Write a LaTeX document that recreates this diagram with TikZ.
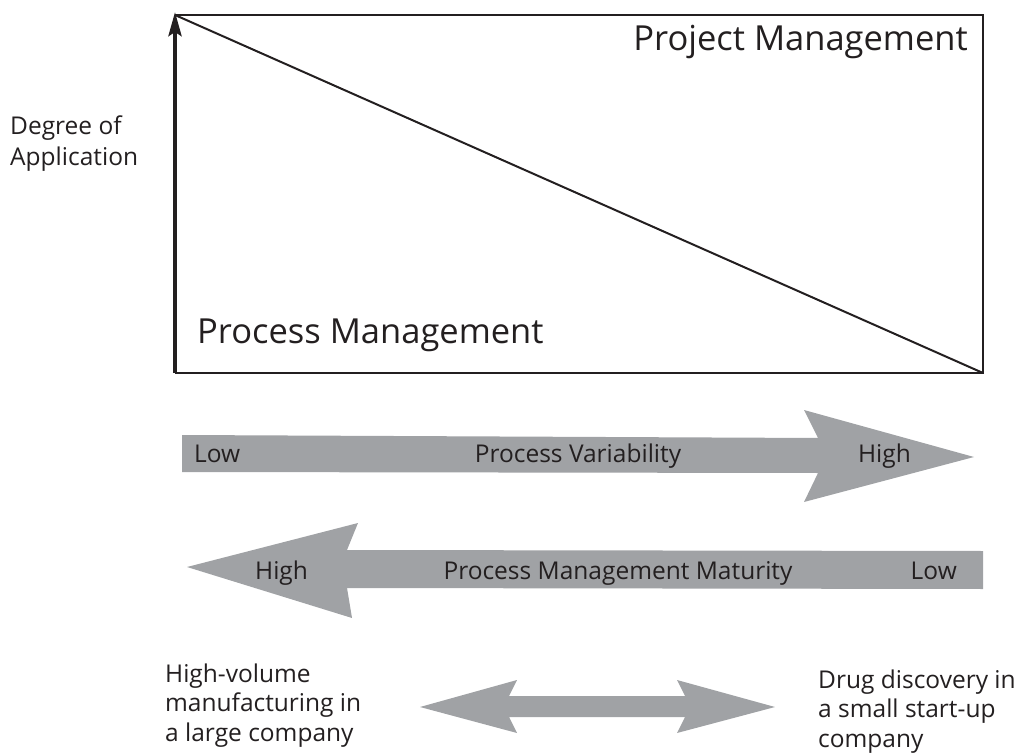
\documentclass[tikz,border=0pt]{standalone}
\usepackage{fontspec}
\setmainfont{Open Sans}
\usetikzlibrary{arrows.meta}
\definecolor{arrowgray}{RGB}{160,162,165}
\definecolor{ink}{RGB}{35,31,32}
\begin{document}
\begin{tikzpicture}[x=1pt,y=-1pt,
  lbl/.style={inner sep=0pt,font=\fontsize{24.5}{29.5}\selectfont,text=ink},
  big/.style={inner sep=0pt,font=\fontsize{34.5}{40}\selectfont,text=ink},
  fatarrow/.style={fill=arrowgray,draw=none}]
\useasboundingbox (0,0) rectangle (1020,754);
% frame corners
\coordinate (tl) at (175,15);
\coordinate (tr) at (983,15);
\coordinate (br) at (983,373);
\coordinate (bl) at (175,373);
\draw[ink,line width=2pt] (tl) -- (tr) -- (br) -- (bl);
\draw[ink,line width=2pt] (tl) -- (br);
\draw[ink,line width=4pt,-{Stealth[length=24pt,width=13pt,inset=4pt]}] (bl) -- (175,12);
\node[big,anchor=base east] (pjm) at (968,51) {Project Management};
\node[big,anchor=base west] (prm) at (197,343) {Process Management};
\node[lbl,anchor=base west,align=left,font=\fontsize{24.5}{31}\selectfont] (doa) at (10,166) {Degree of\\Application};
% arrow 1
\fill[fatarrow] (182,435) -- (818,438) -- (804,410) -- (974,457) -- (804,502) -- (818,473) -- (182,472) -- cycle;
\node[lbl,anchor=base west] (low1) at (194,462) {Low};
\node[lbl,anchor=base] (pv) at (578,462) {Process Variability};
\node[lbl,anchor=base east] (high1) at (911,462) {High};
% arrow 2
\fill[fatarrow] (983,551) -- (347,550) -- (358,523) -- (187,567) -- (352,618) -- (347,588) -- (983,589) -- cycle;
\node[lbl,anchor=base west] (high2) at (255,579) {High};
\node[lbl,anchor=base] (pmm) at (618,579) {Process Management Maturity};
\node[lbl,anchor=base east] (low2) at (957,579) {Low};
% arrow 3
\fill[fatarrow] (420,707) -- (517,680) -- (509,696) -- (685,696) -- (677,680) -- (775,707) -- (677,733) -- (685,717) -- (509,717) -- (517,733) -- cycle;
\node[lbl,anchor=base west,align=left] (left) at (165,741) {High-volume\\manufacturing in\\a large company};
\node[lbl,anchor=base west,align=left] (right) at (818,747) {Drug discovery in\\a small start-up\\company};
\end{tikzpicture}
\end{document}
